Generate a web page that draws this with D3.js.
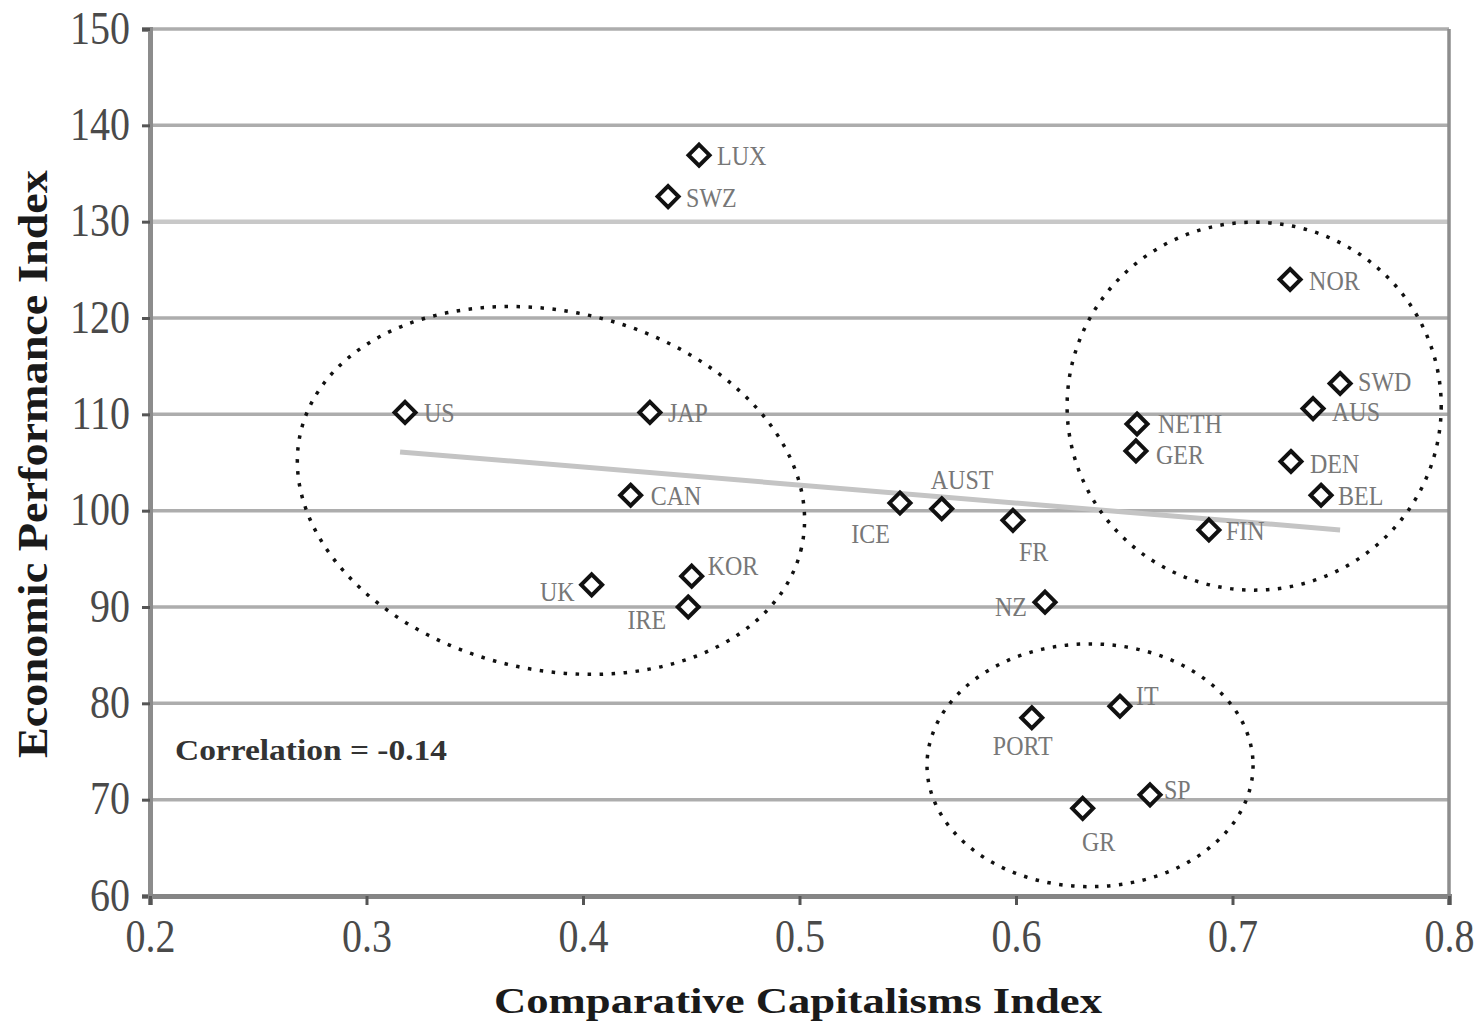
<!DOCTYPE html>
<html><head><meta charset="utf-8">
<script src="https://cdn.jsdelivr.net/npm/d3@7/dist/d3.min.js"></script>
<style>
body{margin:0;background:#fff;}
svg{display:block;}
text{font-family:"Liberation Serif","Times New Roman",serif;}
</style>
</head><body>
<svg id="chart" width="1478" height="1024"></svg>
<script>
// ---- data ----
const countries = ["LUX","SWZ","NOR","SWD","AUS","NETH","GER","DEN","BEL","FIN","US","JAP","CAN","UK","KOR","IRE","ICE","AUST","FR","NZ","IT","PORT","SP","GR"];
const cciValues = [0.4536,0.4393,0.7266,0.7497,0.7372,0.6559,0.6554,0.7270,0.7409,0.6891,0.3178,0.4309,0.4220,0.4040,0.4502,0.4486,0.5464,0.5657,0.5986,0.6134,0.6480,0.6073,0.6619,0.6308];
const epiValues = [136.9,132.6,124.0,113.2,110.6,109.0,106.2,105.1,101.6,98.0,110.2,110.2,101.6,92.3,93.2,90.0,100.8,100.2,99.0,90.5,79.7,78.5,70.5,69.1];
const xTicks = [0.2,0.3,0.4,0.5,0.6,0.7,0.8];
const yTicks = [60,70,80,90,100,110,120,130,140,150];
const trendX = [0.3155,0.7497];
const trendY = [106.1,98.0];
const correlationText = "Correlation = -0.14";
const xTitle = "Comparative Capitalisms Index";
const yTitle = "Economic Performance Index";
// dotted cluster ellipses (centre and radii in data units)
const clusterCx = [0.3852,0.7100,0.6342];
const clusterCy = [102.1,110.85,73.57];
const clusterRx = [0.1187,0.0864,0.0753];
const clusterRy = [18.6,19.1,12.6];
const clusterTilt = [13,0,0];

// ---- layout ----
const labelPlace = {
  LUX:["start",18,10], SWZ:["start",18,10], NOR:["start",19,11], SWD:["start",18,7],
  AUS:["start",19,12], NETH:["start",21,9], GER:["start",20,13], DEN:["start",19,11],
  BEL:["start",17,10], FIN:["start",17,10], US:["start",19,10], JAP:["start",18,10],
  CAN:["start",20,10], UK:["end",-17,16], KOR:["start",16,-1], IRE:["end",-22,22],
  ICE:["end",-10,40], AUST:["start",-11,-20], FR:["start",6,41], NZ:["end",-18,14],
  IT:["start",16,-1], PORT:["middle",-9,37], SP:["start",14,4], GR:["middle",16,43]
};
const SY = 1.15;
const svg = d3.select("#chart");
const x = d3.scaleLinear().domain([0.2,0.8]).range([150,1449]);
const y = d3.scaleLinear().domain([60,150]).range([896,29]);

// gridlines
svg.append("g").selectAll("line").data(yTicks.filter(v=>v>60)).join("line")
  .attr("x1",x(0.2)).attr("x2",x(0.8))
  .attr("y1",d=>y(d)).attr("y2",d=>y(d))
  .attr("stroke",d=>d===130?"#c8c8c8":"#adadad")
  .attr("stroke-width",d=>d===130?4.5:3.5);

// right border
svg.append("line").attr("x1",x(0.8)).attr("x2",x(0.8)).attr("y1",y(150)).attr("y2",y(60))
  .attr("stroke","#8e8e8e").attr("stroke-width",3.5);

// axes
const yAxis = d3.axisLeft(y).tickValues(yTicks).tickSize(8).tickPadding(12).tickFormat(d3.format("d"));
const gy = svg.append("g").attr("transform",`translate(${x(0.2)},0)`).call(yAxis);
gy.select(".domain").attr("stroke","#8c8c8c").attr("stroke-width",5);
gy.selectAll(".tick line").attr("stroke","#555").attr("stroke-width",3);
gy.selectAll(".tick text").attr("x",null).attr("dy",null).attr("y",null)
  .attr("text-anchor","end")
  .attr("transform",`translate(-20,14) scale(1,${SY})`)
  .attr("font-size",40).attr("fill","#4a4a4a")
  .style("font-family",'"Liberation Serif",serif');

const xAxis = d3.axisBottom(x).tickValues(xTicks).tickSize(9).tickPadding(10).tickFormat(d3.format(".1f"));
const gx = svg.append("g").attr("transform",`translate(0,${y(60)})`).call(xAxis);
gx.select(".domain").attr("stroke","#858585").attr("stroke-width",5);
gx.selectAll(".tick line").attr("stroke","#555").attr("stroke-width",3);
gx.selectAll(".tick text").attr("y",null).attr("dy",null)
  .attr("transform",`translate(0,56) scale(1,${SY})`)
  .attr("font-size",40).attr("fill","#4a4a4a")
  .style("font-family",'"Liberation Serif",serif');

// trend line
svg.append("line")
  .attr("x1",x(trendX[0])).attr("y1",y(trendY[0]))
  .attr("x2",x(trendX[1])).attr("y2",y(trendY[1]))
  .attr("stroke","#c4c4c4").attr("stroke-width",5);

// cluster ellipses
svg.append("g").selectAll("ellipse").data(clusterCx.map((c,i)=>i)).join("ellipse")
  .attr("transform",i=>`translate(${x(clusterCx[i])},${y(clusterCy[i])}) rotate(${clusterTilt[i]})`)
  .attr("rx",i=>x(clusterCx[i]+clusterRx[i])-x(clusterCx[i]))
  .attr("ry",i=>y(clusterCy[i]-clusterRy[i])-y(clusterCy[i]))
  .attr("fill","none").attr("stroke","#111").attr("stroke-width",3.5)
  .attr("stroke-dasharray","3.5 8.5");

// points
const pts = countries.map((c,i)=>({name:c,cx:cciValues[i],ep:epiValues[i]}));
const r = 10.5;
svg.append("g").selectAll("path").data(pts).join("path")
  .attr("d",`M0,${-r}L${r},0L0,${r}L${-r},0Z`)
  .attr("transform",d=>`translate(${x(d.cx)},${y(d.ep)})`)
  .attr("fill","#fff").attr("stroke","#111").attr("stroke-width",4);

// labels
svg.append("g").selectAll("text").data(pts).join("text")
  .text(d=>d.name)
  .attr("text-anchor",d=>labelPlace[d.name][0])
  .attr("transform",d=>`translate(${x(d.cx)+labelPlace[d.name][1]},${y(d.ep)+labelPlace[d.name][2]}) scale(1,${SY})`)
  .attr("font-size",24).attr("fill","#777");

// correlation note
svg.append("text").text(correlationText)
  .attr("x",175).attr("y",760)
  .attr("font-size",30).attr("font-weight","bold").attr("fill","#333")
  .attr("textLength",272).attr("lengthAdjust","spacingAndGlyphs");

// titles
svg.append("text").text(xTitle)
  .attr("x",494).attr("y",1013)
  .attr("font-size",36).attr("font-weight","bold").attr("fill","#1a1a1a")
  .attr("textLength",608).attr("lengthAdjust","spacingAndGlyphs");
svg.append("text").text(yTitle)
  .attr("transform","translate(47,758) rotate(-90)")
  .attr("font-size",42).attr("font-weight","bold").attr("fill","#1a1a1a")
  .attr("textLength",588).attr("lengthAdjust","spacingAndGlyphs");
</script>
</body></html>
